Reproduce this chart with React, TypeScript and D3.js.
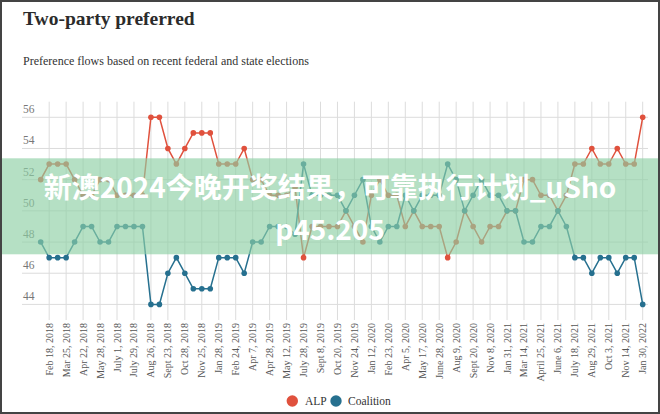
import React from 'react';
import * as d3 from 'd3';

const tickLabels = [
  'Feb 18, 2018', 'Mar 25, 2018', 'Apr 22, 2018', 'May 28, 2018', 'July 1, 2018', 'July 29, 2018',
  'Aug 26, 2018', 'Sept 23, 2018', 'Oct 28, 2018', 'Nov 25, 2018', 'Jan 28, 2019', 'Feb 24, 2019',
  'Apr 7, 2019', 'Apr 28, 2019', 'May 12, 2019', 'July 28, 2019', 'Sept 8, 2019', 'Oct 20, 2019',
  'Nov 24, 2019', 'Jan 12, 2020', 'Feb 23, 2020', 'Apr 5, 2020', 'May 17, 2020', 'June 28, 2020',
  'Aug 9, 2020', 'Sept 20, 2020', 'Nov 8, 2020', 'Jan 31, 2021', 'Mar 14, 2021', 'April 25, 2021',
  'June 6, 2021', 'July 18, 2021', 'Aug 29, 2021', 'Oct 3, 2021', 'Nov 14, 2021', 'Jan 30, 2022',
];

const alp = [
  52, 53, 53, 53, 52, 51, 51, 52, 52, 51, 51, 51, 51, 56, 56, 54, 53, 54, 55, 55,
  55, 53, 53, 53, 54, 52, 52, 51, 51, 51, 51.5, 47, 49, 49, 49, 49, 50, 49, 48, 51,
  52, 51, 51, 49, 50, 49, 49, 49, 47, 48, 50, 49, 48, 49, 49, 50, 50, 52, 52, 51,
  51, 50, 51, 53, 53, 54, 53, 53, 54, 53, 53, 56,
];

const coalition = [
  48, 47, 47, 47, 48, 49, 49, 48, 48, 49, 49, 49, 49, 44, 44, 46, 47, 46, 45, 45,
  45, 47, 47, 47, 46, 48, 48, 49, 49, 49, 48.5, 53, 51, 51, 51, 51, 50, 51, 52, 49,
  48, 49, 49, 51, 50, 51, 51, 51, 53, 52, 50, 51, 52, 51, 51, 50, 50, 48, 48, 49,
  49, 50, 49, 47, 47, 46, 47, 47, 46, 47, 47, 44,
];

const yTicks = [44, 46, 48, 50, 52, 54, 56];
const seriesNames = ['ALP', 'Coalition'];
const seriesColors = ['#e0513d', '#26708f'];

const serif = '"Liberation Serif", "Times New Roman", serif';

export default function App() {
  const W = 660;
  const H = 414;
  const idx = d3.range(alp.length);
  const x = d3.scalePoint<number>().domain(idx).range([40.7, 642.7]);
  const y = d3.scaleLinear().domain([43, 57]).range([320, 101.7]);
  const tickIdx = tickLabels.map((_, i) => 2 * i + 1);
  const line = d3
    .line<number>()
    .x((_, i) => x(i) as number)
    .y((d) => y(d));
  const series = [alp, coalition];

  return (
    <svg
      width={W}
      height={H}
      style={{ position: 'absolute', left: 0, top: 0, display: 'block', background: '#fff' }}
    >
      <rect x={0} y={0} width={W} height={H} fill="#fff" />
      <text x={23} y={25} fontFamily={serif} fontWeight="bold" fontSize={19.5} fill="#2b2b2b">
        Two-party preferred
      </text>
      <text x={23} y={65} fontFamily={serif} fontSize={12} fill="#333">
        Preference flows based on recent federal and state elections
      </text>

      {/* horizontal gridlines */}
      {yTicks.map((t) => (
        <g key={t}>
          <line x1={22} x2={648} y1={y(t)} y2={y(t)} stroke="#dcdcdc" strokeWidth={1} />
          <text x={23} y={y(t) - 4} fontFamily={serif} fontSize={11.5} fill="#777">
            {t}
          </text>
        </g>
      ))}

      {/* vertical gridlines and x labels */}
      {tickIdx.map((ti, k) => (
        <g key={ti}>
          <line
            x1={x(ti)}
            x2={x(ti)}
            y1={y(57)}
            y2={320}
            stroke="#dcdcdc"
            strokeWidth={1}
          />
          <text
            transform={`translate(${(x(ti) as number) + 3.5},323) rotate(-90)`}
            textAnchor="end"
            fontFamily={serif}
            fontSize={10}
            fill="#555"
          >
            {tickLabels[k]}
          </text>
        </g>
      ))}

      {/* series */}
      {series.map((s, si) => (
        <g key={si}>
          <path d={line(s) || ''} fill="none" stroke={seriesColors[si]} strokeWidth={1.5} />
          {s.map((v, i) => (
            <circle key={i} cx={x(i)} cy={y(v)} r={2.8} fill={seriesColors[si]} />
          ))}
        </g>
      ))}

      {/* legend */}
      <circle cx={292.3} cy={401} r={5.7} fill={seriesColors[0]} />
      <text x={305} y={405} fontFamily={serif} fontSize={11.5} fill="#333">
        {seriesNames[0]}
      </text>
      <circle cx={336} cy={401} r={5.7} fill={seriesColors[1]} />
      <text x={348} y={405} fontFamily={serif} fontSize={11.5} fill="#333">
        {seriesNames[1]}
      </text>

      {/* watermark band */}
      <rect x={0} y={158.3} width={W} height={96} fill="rgb(141,208,164)" opacity={0.65} />
      <text
        x={330}
        y={198}
        textAnchor="middle"
        fontFamily='"Noto Sans CJK SC", sans-serif'
        fontWeight="bold"
        fontSize={28}
        fill="#fff"
      >
        新澳2024今晚开奖结果，可靠执行计划_uSho
      </text>
      <text
        x={330}
        y={240}
        textAnchor="middle"
        fontFamily='"Noto Sans CJK SC", sans-serif'
        fontWeight="bold"
        fontSize={28}
        fill="#fff"
      >
        p45.205
      </text>

      <rect x={1} y={1} width={W - 2} height={H - 2} fill="none" stroke="#444" strokeWidth={2} />
    </svg>
  );
}
